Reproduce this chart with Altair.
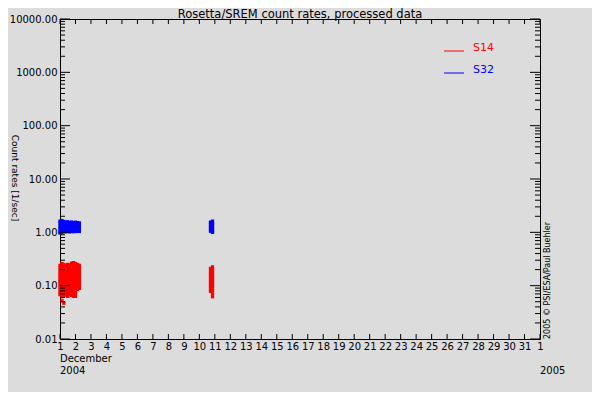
import altair as alt
import pandas as pd

# ---- data (day of December 2004, count rate 1/sec) ----
s14_block_a = {
    1.000: [0.24, 0.21, 0.19, 0.17, 0.155, 0.14, 0.125, 0.115, 0.105, 0.095, 0.085, 0.075, 0.068],
    1.125: [0.26, 0.23, 0.20, 0.18, 0.16, 0.145, 0.13, 0.12, 0.11, 0.10, 0.09, 0.08, 0.07, 0.062, 0.052],
    1.250: [0.25, 0.22, 0.195, 0.175, 0.155, 0.14, 0.128, 0.117, 0.107, 0.097, 0.088, 0.079, 0.072, 0.065, 0.047],
    1.375: [0.24, 0.215, 0.19, 0.17, 0.152, 0.138, 0.125, 0.113, 0.102, 0.092, 0.083, 0.075, 0.067],
    1.500: [0.25, 0.225, 0.20, 0.178, 0.16, 0.143, 0.13, 0.118, 0.106, 0.096, 0.087, 0.078, 0.07, 0.063],
    1.625: [0.245, 0.22, 0.195, 0.172, 0.155, 0.14, 0.126, 0.114, 0.103, 0.093, 0.084, 0.076, 0.068],
    1.750: [0.265, 0.235, 0.205, 0.18, 0.16, 0.145, 0.13, 0.117, 0.105, 0.095, 0.085, 0.076, 0.066],
    1.875: [0.27, 0.24, 0.21, 0.185, 0.165, 0.148, 0.133, 0.12, 0.108, 0.097, 0.087, 0.078, 0.07, 0.063],
    2.000: [0.26, 0.23, 0.205, 0.18, 0.16, 0.143, 0.128, 0.116, 0.104, 0.094, 0.085, 0.077, 0.07, 0.063],
    2.125: [0.25, 0.22, 0.195, 0.175, 0.155, 0.14, 0.126, 0.114, 0.103, 0.093, 0.085],
    2.250: [0.24, 0.21, 0.185, 0.165, 0.148, 0.133, 0.12, 0.108, 0.098, 0.089],
}
s14_block_b = {
    10.72: [0.21, 0.185, 0.165, 0.15, 0.135, 0.12, 0.108, 0.097, 0.087, 0.078],
    10.85: [0.225, 0.20, 0.175, 0.155, 0.14, 0.125, 0.112, 0.10, 0.09, 0.08, 0.07, 0.062],
}
s32_block_a = {
    1.000: [1.62, 1.45, 1.30, 1.17, 1.05, 0.97],
    1.125: [1.66, 1.50, 1.35, 1.21, 1.09, 1.00],
    1.250: [1.60, 1.44, 1.29, 1.16, 1.04],
    1.375: [1.55, 1.40, 1.26, 1.13, 1.02],
    1.500: [1.58, 1.42, 1.28, 1.15, 1.05],
    1.625: [1.52, 1.37, 1.24, 1.12, 1.02],
    1.750: [1.56, 1.41, 1.27, 1.14, 1.04],
    1.875: [1.50, 1.36, 1.23, 1.11, 1.03],
    2.000: [1.55, 1.40, 1.26, 1.13, 1.04],
    2.125: [1.52, 1.37, 1.24, 1.12, 1.04],
    2.250: [1.50, 1.36, 1.23, 1.11, 1.04],
}
s32_block_b = {
    10.72: [1.55, 1.40, 1.27, 1.15, 1.05],
    10.85: [1.62, 1.45, 1.30, 1.18, 1.08, 1.00],
}

series_names = ["S14", "S32"]
series_colors = ["#FF0000", "#0000FF"]

y_major = [0.01, 0.1, 1, 10, 100, 1000, 10000]
y_minor = [m * 10.0 ** k for k in range(-2, 4) for m in range(2, 10)]
x_days = list(range(1, 33))

title_text = "Rosetta/SREM count rates, processed data"
y_title = "Count rates [1/sec]"
credit = "2005 \u00a9 PSI/ESA/Paul Buehler"

FONT = "DejaVu Sans"


def expand(blocks, name):
    rows = []
    for day, rates in blocks.items():
        for r in rates:
            rows.append({"day": day, "rate": r, "series": name})
    return rows


points_df = pd.DataFrame(
    expand(s14_block_a, "S14") + expand(s14_block_b, "S14")
    + expand(s32_block_a, "S32") + expand(s32_block_b, "S32")
)

xscale = alt.Scale(domain=[1, 32], nice=False, zero=False)
yscale = alt.Scale(type="log", domain=[0.01, 10000], nice=False)

x_axis = alt.Axis(values=x_days, format="d",
                  labelExpr="datum.value == 32 ? '1' : datum.label",
                  ticks=False, domain=False, grid=False, title=None,
                  labelFont=FONT, labelFontSize=10, labelColor="black",
                  labelPadding=2, labelFlush=False, labelOverlap=False)
y_axis = alt.Axis(values=y_major, format=".2f",
                  ticks=False, domain=False, grid=False, title=None,
                  labelFont=FONT, labelFontSize=10, labelColor="black",
                  labelPadding=3, labelFlush=False, labelOverlap=False)

color_enc = alt.Color("series:N", scale=alt.Scale(domain=series_names, range=series_colors), legend=None)

points = alt.Chart(points_df).mark_square(size=11, opacity=1).encode(
    x=alt.X("day:Q", scale=xscale, axis=x_axis),
    y=alt.Y("rate:Q", scale=yscale, axis=y_axis),
    color=color_enc,
)

ymaj_df = pd.DataFrame({"v": y_major})
ymin_df = pd.DataFrame({"v": y_minor})
xt_df = pd.DataFrame({"d": x_days})


def yticks(df, x0, x1):
    return alt.Chart(df).mark_rule(color="black", strokeWidth=1).encode(
        y=alt.Y("v:Q", scale=yscale, axis=y_axis), x=alt.value(x0), x2=alt.value(x1))


def xticks(y0, y1):
    return alt.Chart(xt_df).mark_rule(color="black", strokeWidth=1).encode(
        x=alt.X("d:Q", scale=xscale, axis=x_axis), y=alt.value(y0), y2=alt.value(y1))


ticks = [
    yticks(ymaj_df, 0, 10), yticks(ymaj_df, 470, 480),
    yticks(ymin_df, 0, 5), yticks(ymin_df, 475, 480),
    xticks(315, 320), xticks(0, 5),
]

legend_df = pd.DataFrame({"series": series_names, "ypix": [32, 54]})
legend_lines = alt.Chart(legend_df).mark_rule(strokeWidth=1).encode(
    x=alt.value(384), x2=alt.value(404), y=alt.Y("ypix:Q", scale=None),
    color=color_enc,
)
legend_text = alt.Chart(legend_df).mark_text(
    font=FONT, fontSize=11, align="left", baseline="middle", dy=-3
).encode(
    x=alt.value(413), y=alt.Y("ypix:Q", scale=None), text="series:N",
    color=color_enc,
)

title = alt.Chart(pd.DataFrame({"t": [title_text]})).mark_text(
    font=FONT, fontSize=11.5, align="center", baseline="alphabetic", color="black"
).encode(x=alt.value(240), y=alt.value(-1.5), text="t:N")

ytitle = alt.Chart(pd.DataFrame({"t": [y_title]})).mark_text(
    font=FONT, fontSize=9, align="center", baseline="middle", angle=90, color="black"
).encode(x=alt.value(-45), y=alt.value(159), text="t:N")

credit_txt = alt.Chart(pd.DataFrame({"t": [credit]})).mark_text(
    font=FONT, fontSize=8, align="left", baseline="middle", angle=270, color="black"
).encode(x=alt.value(488), y=alt.value(320), text="t:N")

month_df = pd.DataFrame({"d": [1, 1, 32], "t": ["December", "2004", "2005"], "ypix": [339.5, 351.5, 351.5]})
month_txt = alt.Chart(month_df).mark_text(
    font=FONT, fontSize=10, align="left", baseline="middle", color="black"
).encode(x=alt.X("d:Q", scale=xscale, axis=x_axis), y=alt.Y("ypix:Q", scale=None), text="t:N")

chart = alt.layer(
    points, *ticks, legend_lines, legend_text, title, ytitle, credit_txt, month_txt
).properties(
    width=480, height=320,
    autosize=alt.AutoSizeParams(type="none"),
    padding={"left": 52, "top": 11, "right": 52, "bottom": 53},
).configure(
    background="#DCDCDC"
).configure_view(
    stroke="black", strokeWidth=1
)

chart.save("out.html", embed_options={"renderer": "svg", "actions": False})
